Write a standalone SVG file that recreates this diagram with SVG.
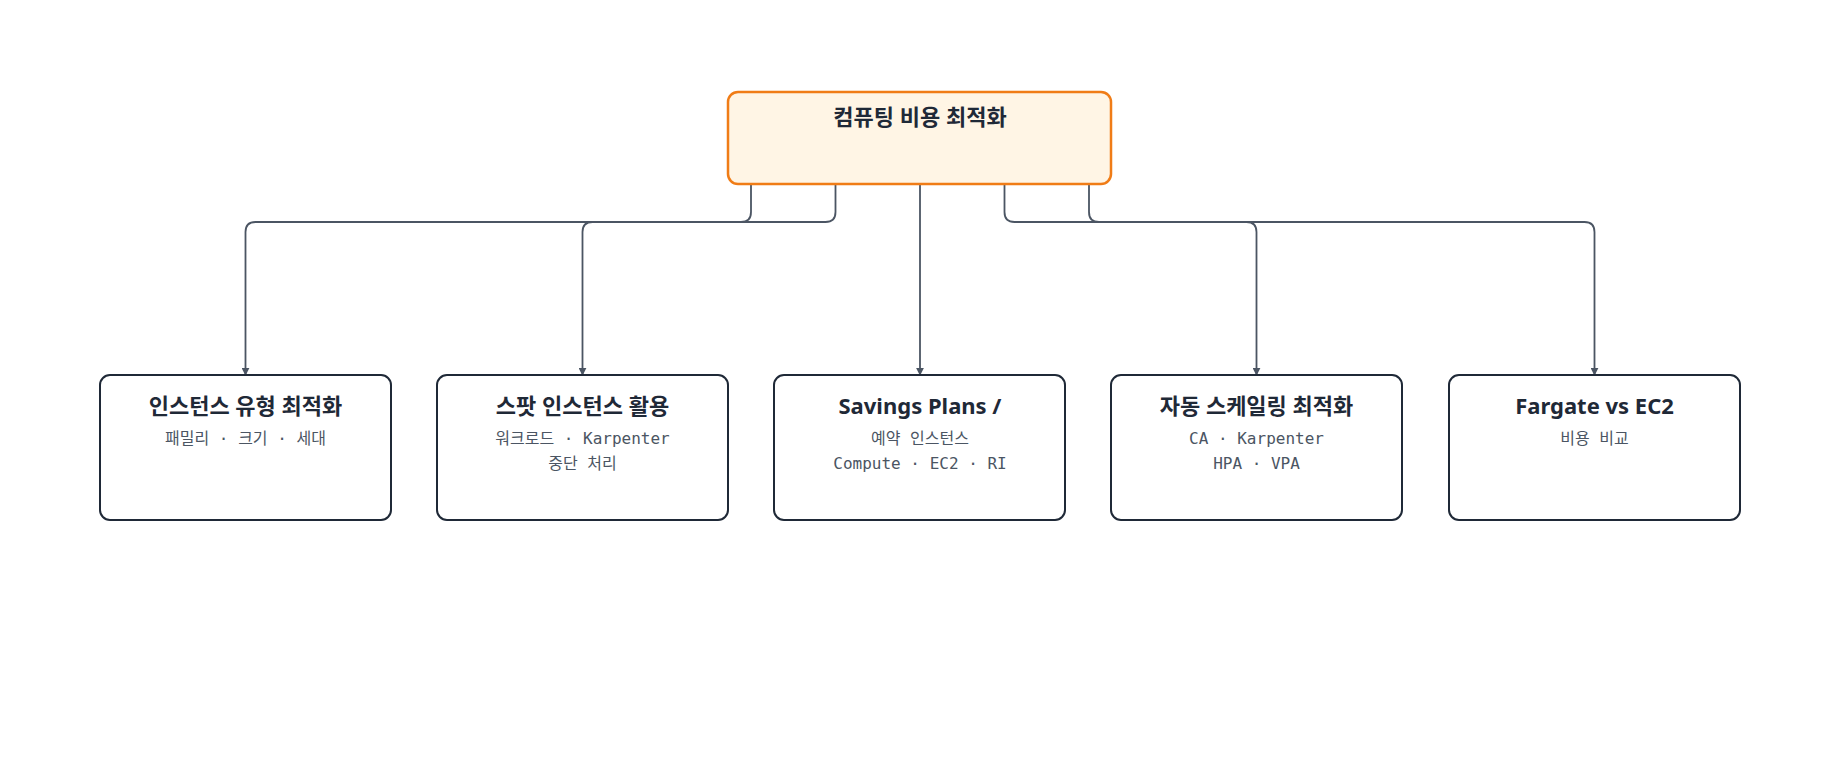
<svg xmlns="http://www.w3.org/2000/svg" width="1840" height="768" viewBox="0 0 1840 768">
<defs>
<marker id="ah" viewBox="0 0 10 10" refX="9" refY="5" markerWidth="8" markerHeight="8" markerUnits="userSpaceOnUse" orient="auto"><path d="M0,0 L10,5 L0,10 z" fill="#4b5563"/></marker>
<style>
.box{fill:#fff;stroke:#1f2937;stroke-width:2}
.root{fill:#fff5e5;stroke:#f07c16;stroke-width:2.5}
.t{font-family:"Noto Sans","Noto Sans CJK KR",sans-serif;font-weight:700;font-size:22px;fill:#1f2937;text-anchor:middle}
.s{font-family:"DejaVu Sans Mono","Noto Sans CJK KR",monospace;font-size:16px;fill:#4b5563;text-anchor:middle}
.c{fill:none;stroke:#4b5563;stroke-width:1.8;marker-end:url(#ah)}
</style>
</defs>
<rect width="1840" height="768" fill="#fff"/>
<g id="connectors">
<path class="c" d="M751,184 V212 Q751,222 741,222 H255.5 Q245.5,222 245.5,232 V375"/>
<path class="c" d="M835.5,184 V212 Q835.5,222 825.5,222 H592.5 Q582.5,222 582.5,232 V375"/>
<path class="c" d="M920,184 V375"/>
<path class="c" d="M1004.5,184 V212 Q1004.5,222 1014.5,222 H1246.5 Q1256.5,222 1256.5,232 V375"/>
<path class="c" d="M1089,184 V212 Q1089,222 1099,222 H1584.5 Q1594.5,222 1594.5,232 V375"/>
</g>
<g id="root"><rect class="root" x="728" y="92" width="383" height="92" rx="10"/><text class="t" x="920" y="125">컴퓨팅 비용 최적화</text></g>
<g id="n1"><rect class="box" x="100" y="375" width="291" height="145" rx="10"/><text class="t" x="245.5" y="414">인스턴스 유형 최적화</text><text class="s" x="245.5" y="444">패밀리 · 크기 · 세대</text></g>
<g id="n2"><rect class="box" x="437" y="375" width="291" height="145" rx="10"/><text class="t" x="582.5" y="414">스팟 인스턴스 활용</text><text class="s" x="582.5" y="444">워크로드 · Karpenter</text><text class="s" x="582.5" y="469">중단 처리</text></g>
<g id="n3"><rect class="box" x="774" y="375" width="291" height="145" rx="10"/><text class="t" x="920" y="414">Savings Plans /</text><text class="s" x="920" y="444">예약 인스턴스</text><text class="s" x="920" y="469">Compute · EC2 · RI</text></g>
<g id="n4"><rect class="box" x="1111" y="375" width="291" height="145" rx="10"/><text class="t" x="1256.5" y="414">자동 스케일링 최적화</text><text class="s" x="1256.5" y="444">CA · Karpenter</text><text class="s" x="1256.5" y="469">HPA · VPA</text></g>
<g id="n5"><rect class="box" x="1449" y="375" width="291" height="145" rx="10"/><text class="t" x="1594.5" y="414">Fargate vs EC2</text><text class="s" x="1594.5" y="444">비용 비교</text></g>
</svg>
